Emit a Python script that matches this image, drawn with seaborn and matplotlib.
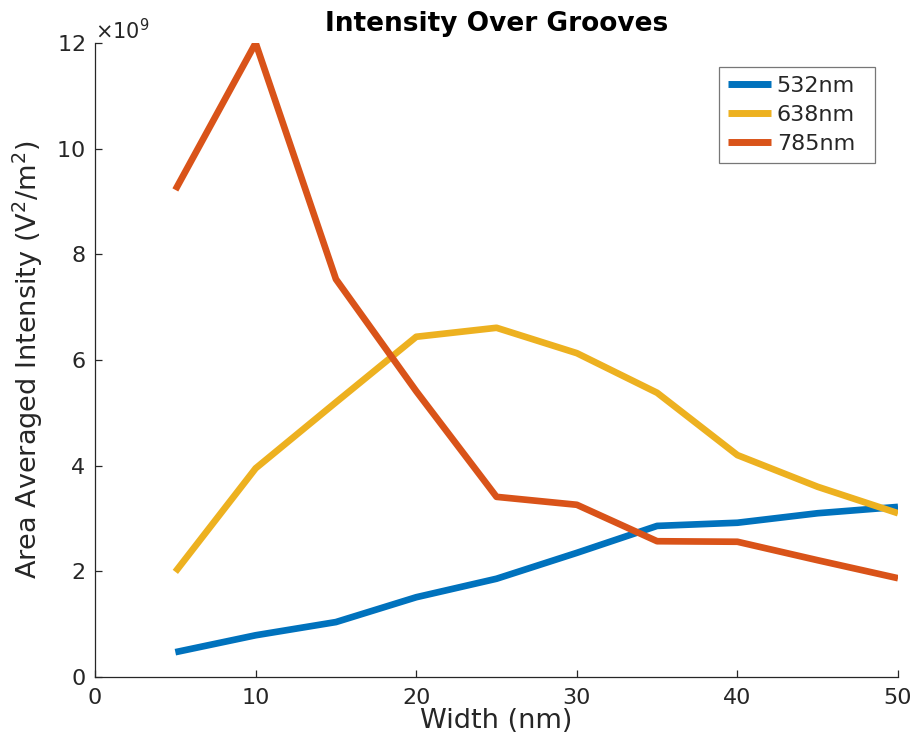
import matplotlib
matplotlib.use("Agg")
import matplotlib.pyplot as plt
from matplotlib.ticker import ScalarFormatter
import numpy as np
import pandas as pd
import seaborn as sns

# Groove width (nm)
widths = [5, 10, 15, 20, 25, 30, 35, 40, 45, 50]

# Area averaged intensity (V^2/m^2) per excitation wavelength
intensity_532 = [0.47e9, 0.79e9, 1.04e9, 1.51e9, 1.86e9, 2.35e9, 2.86e9, 2.92e9, 3.10e9, 3.22e9]
intensity_638 = [1.99e9, 3.95e9, 5.20e9, 6.44e9, 6.61e9, 6.13e9, 5.38e9, 4.20e9, 3.60e9, 3.10e9]
intensity_785 = [9.22e9, 12.0e9, 7.53e9, 5.41e9, 3.41e9, 3.26e9, 2.57e9, 2.56e9, 2.21e9, 1.87e9]

series_names = ["532nm", "638nm", "785nm"]
series_colors = ["#0072BD", "#EDB120", "#D95319"]

df = pd.concat(
    [
        pd.DataFrame({"Width": widths, "Intensity": vals, "Wavelength": name})
        for name, vals in zip(series_names, [intensity_532, intensity_638, intensity_785])
    ],
    ignore_index=True,
)

sns.set_style("white")
plt.rcParams["font.family"] = ["DejaVu Sans"]
plt.rcParams["mathtext.fontset"] = "dejavusans"

fig = plt.figure(figsize=(9.14, 7.47), dpi=100)
ax = fig.add_axes([0.104, 0.0937, 0.8785, 0.8487])

sns.lineplot(
    data=df, x="Width", y="Intensity", hue="Wavelength",
    hue_order=series_names, palette=series_colors,
    linewidth=4.8, ax=ax, sort=False,
)
for line in ax.get_lines():
    line.set_solid_capstyle("butt")
    line.set_solid_joinstyle("round")

ax.set_xlim(0, 50)
ax.set_ylim(0, 12e9)
ax.set_xticks([0, 10, 20, 30, 40, 50])
ax.set_yticks(np.arange(0, 12.1e9, 2e9))

# Fixed x10^9 exponent on the intensity axis
fmt = ScalarFormatter(useMathText=True)
fmt.set_powerlimits((9, 9))
ax.yaxis.set_major_formatter(fmt)
ax.yaxis.get_offset_text().set_fontsize(15)
ax.yaxis.get_offset_text().set_color("#262626")

for side in ["top", "right"]:
    ax.spines[side].set_visible(False)
for side in ["left", "bottom"]:
    ax.spines[side].set_color("#262626")
    ax.spines[side].set_linewidth(0.9)

ax.tick_params(direction="in", length=5, width=0.9, colors="#262626",
               labelsize=16, left=True, bottom=True, pad=7)
ax.tick_params(axis="x", pad=8)

ax.set_xlabel("Width (nm)", fontsize=19.5, color="#262626", labelpad=0)
ax.set_ylabel(r"Area Averaged Intensity (V$^2$/m$^2$)", fontsize=19.5,
              color="#262626", labelpad=8)
ax.set_title("Intensity Over Grooves", fontsize=19, fontweight="bold",
             color="black", pad=9)

leg = ax.legend(
    loc="upper left", bbox_to_anchor=(0.777, 0.817, 0.194, 0.145),
    mode="expand", fontsize=16,
    frameon=True, fancybox=False, edgecolor="#555555", handlelength=1.95,
    handletextpad=0.25, borderpad=0.4, borderaxespad=0, labelspacing=0.4,
)
leg.get_frame().set_linewidth(0.9)
for line in leg.get_lines():
    line.set_linewidth(5)
    line.set_solid_capstyle("butt")

fig.savefig("out.png", dpi=100)
